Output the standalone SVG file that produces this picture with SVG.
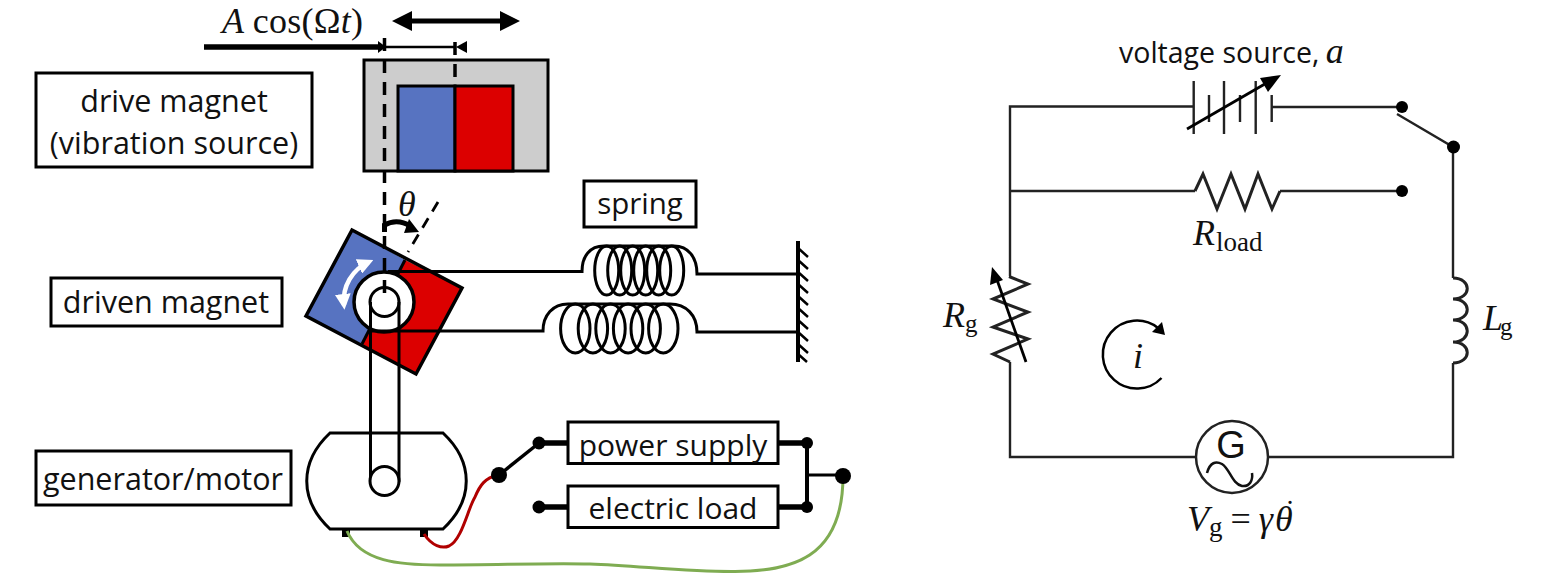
<svg xmlns="http://www.w3.org/2000/svg" width="1542" height="582" viewBox="0 0 1542 582">
<style>
.box{fill:#fff;stroke:#000;stroke-width:3}
.lbl{font-family:"Open Sans","Noto Sans",sans-serif;font-size:30.500px;fill:#111;text-anchor:middle}
.m{font-family:"Liberation Serif",serif;font-style:italic;font-size:36px;fill:#111}
.u{font-family:"Liberation Serif",serif;font-style:normal}
.w{fill:none;stroke:#000;stroke-width:3}
.c{fill:none;stroke:#222;stroke-width:2.400}
.d{fill:none;stroke:#000;stroke-width:3.500;stroke-dasharray:13 9}
.t{fill:none;stroke:#000;stroke-width:5.500}
.coil{fill:none;stroke:#000;stroke-width:3}
</style>
<defs>
<marker id="whead" viewBox="0 0 10 10" refX="7" refY="5" markerWidth="3.500" markerHeight="3.500" orient="auto-start-reverse" markerUnits="strokeWidth"><path d="M0 0L10 5L0 10z" fill="#fff"/></marker>
</defs>

<g id="drive-magnet">
<rect x="364" y="60" width="184" height="111" fill="#cdcdcd" stroke="#000" stroke-width="3"/>
<rect x="398" y="86" width="57" height="85" fill="#5773c1" stroke="#000" stroke-width="3"/>
<rect x="455" y="86" width="58" height="85" fill="#dc0000" stroke="#000" stroke-width="3"/>
</g>
<g id="driven-magnet">
<path d="M352 230L405 260L362 344L306 316z" fill="#5773c1"/>
<path d="M405 260L462 288L416 374L362 344z" fill="#dc0000"/>
<path d="M352 230L462 288L416 374L306 316z" fill="none" stroke="#000" stroke-width="3.500"/>
<path d="M405 260L362 344" stroke="#000" stroke-width="3" fill="none"/>
</g>
<g id="generator">
<path d="M330 433H443C474 462 474 500 443 529H330C299 500 299 462 330 433z" fill="#fff" stroke="#000" stroke-width="3"/>
<rect x="342" y="529" width="8" height="8" fill="#000"/>
<rect x="420" y="529" width="8" height="8" fill="#000"/>
</g>
<g id="rotor">
<circle cx="384" cy="302" r="30" fill="#fff" stroke="#000" stroke-width="3.500"/>
<path d="M370.500 302V481A14.500 14.500 0 0 0 399 481V302" fill="none" stroke="#000" stroke-width="3"/>
<circle cx="384.500" cy="481" r="14.500" fill="#fff" stroke="#000" stroke-width="3"/>
<circle cx="384.500" cy="302" r="14.500" fill="none" stroke="#000" stroke-width="3"/>
<path d="M344 305A42 42 0 0 1 369 262" fill="none" stroke="#fff" stroke-width="4.500" marker-start="url(#whead)" marker-end="url(#whead)"/>
</g>

<g id="connectors">
<path class="d" d="M384.500 38V302"/>
<path class="d" d="M455 42V86"/>
<path d="M438 202L408 252" fill="none" stroke="#000" stroke-width="2.800" stroke-dasharray="11 8"/>
<path d="M204 47H378" fill="none" stroke="#000" stroke-width="5.500"/>
<path d="M378 41L386 47L378 53z" fill="#000"/>
<path d="M384 47H456" fill="none" stroke="#000" stroke-width="2.500"/>
<path d="M467 41V53L456 47z" fill="#000"/>
<path d="M410 21H502" fill="none" stroke="#000" stroke-width="5"/>
<path d="M392 21L412 11V31z M520 21L500 11V31z" fill="#000"/>
<path d="M384.500 232V225C395 219 406 222 412 228" fill="none" stroke="#000" stroke-width="5"/>
<path d="M409 219L419 232L404 233z" fill="#000"/>
<path class="w" d="M388 271.500H582C582 256 590 246 604 246H674C688 246 697 257 697 274H798"/>
<path class="w" d="M369 331H543C543 315 553 304 568 304H670C686 304 697 315 697 332H798"/>
<g class="coil">
<ellipse cx="606.700" cy="270.500" rx="12" ry="24.500"/><ellipse cx="619.700" cy="270.500" rx="12" ry="24.500"/><ellipse cx="632.700" cy="270.500" rx="12" ry="24.500"/><ellipse cx="645.700" cy="270.500" rx="12" ry="24.500"/><ellipse cx="658.700" cy="270.500" rx="12" ry="24.500"/><ellipse cx="671.700" cy="270.500" rx="12" ry="24.500"/>
<ellipse cx="575.300" cy="328.500" rx="14.700" ry="24.500"/><ellipse cx="592.900" cy="328.500" rx="14.700" ry="24.500"/><ellipse cx="610.500" cy="328.500" rx="14.700" ry="24.500"/><ellipse cx="628.100" cy="328.500" rx="14.700" ry="24.500"/><ellipse cx="645.700" cy="328.500" rx="14.700" ry="24.500"/><ellipse cx="663.300" cy="328.500" rx="14.700" ry="24.500"/>
</g>
<path d="M798 241V362" fill="none" stroke="#000" stroke-width="4"/>
<path d="M798 248L808 257M798 260L808 269M798 272L808 281M798 284L808 293M798 296L808 305M798 308L808 317M798 320L808 329M798 332L808 341M798 344L808 353M798 354L807 362" fill="none" stroke="#000" stroke-width="2.500"/>
<path d="M424 534C432 546 442 549 449 546C462 540 468 508 475 497C480 485 485 478 498 475" fill="none" stroke="#b00000" stroke-width="3"/>
<path d="M347 531C360 562 400 565 440 565C500 565 540 563 590 564C640 566 690 572 735 571.500C790 571 843 560 843 476" fill="none" stroke="#7fac52" stroke-width="3"/>
<path d="M499 475L539 443" fill="none" stroke="#000" stroke-width="3.500"/>
<path class="t" d="M539 443H568M539 507H568M778 443H807M778 507H807"/>
<path d="M807 443V507" fill="none" stroke="#000" stroke-width="4"/>
<path d="M807 475H843" fill="none" stroke="#000" stroke-width="3"/>
<circle cx="499" cy="475" r="8" fill="#000"/><circle cx="539" cy="443" r="6.500" fill="#000"/><circle cx="539" cy="507" r="6.500" fill="#000"/><circle cx="807" cy="443" r="6" fill="#000"/><circle cx="807" cy="507" r="6" fill="#000"/><circle cx="843" cy="476" r="8" fill="#000"/>

<path class="c" d="M1193 106.500H1010V276M1010 191H1195M1280 191H1402M1272 107H1402M1397 114L1453 147V278M1453 363V457H1268M1196 457H1010V362"/>
<path class="c" d="M1193.700 81V134M1209 95V122M1224 81V134M1240 95V122M1255.700 81V134M1271.700 95V122"/>
<path d="M1187 129L1270 81" fill="none" stroke="#000" stroke-width="2.800"/>
<path d="M1281 75L1268 92L1260 78z" fill="#000"/>
<circle cx="1402" cy="107" r="6" fill="#000"/><circle cx="1402" cy="191" r="6" fill="#000"/><circle cx="1453.500" cy="147" r="6.500" fill="#000"/>
<path d="M1195 191L1203 174L1217 209L1231 174L1245 209L1258 174L1272 209L1280 191" fill="none" stroke="#222" stroke-width="3"/>
<path d="M1009 276.500L1028 284L993 299L1028 312L993 327L1028 339L993 354L1010 362" fill="none" stroke="#222" stroke-width="3"/>
<path d="M1026 362L996 277" fill="none" stroke="#000" stroke-width="2.800"/>
<path d="M992 267L1003 280L990 285z" fill="#000"/>
<path d="M1453 278C1472 278 1472 299 1453 299C1472 299 1472 320 1453 320C1472 320 1472 342 1453 342C1472 342 1472 363 1453 363" fill="none" stroke="#222" stroke-width="3"/>
<path d="M1161.500 378A34 34 0 1 1 1158 328" fill="none" stroke="#000" stroke-width="2.500"/>
<path d="M1165 335L1152 332L1162 322z" fill="#000"/>
</g>

<g id="drive-magnet-label"><rect class="box" x="36" y="73" width="276" height="94"/><text class="lbl" x="174" y="112">drive magnet</text><text class="lbl" x="174" y="154">(vibration source)</text></g>
<g id="spring-label"><rect class="box" x="584" y="181" width="112" height="46"/><text class="lbl" x="640" y="214" style="font-size:29.500px">spring</text></g>
<g id="driven-magnet-label"><rect class="box" x="51" y="278" width="231" height="48"/><text class="lbl" x="166" y="313">driven magnet</text></g>
<g id="generator-label"><rect class="box" x="36" y="451" width="255" height="54"/><text class="lbl" x="163" y="490">generator/motor</text></g>
<g id="power-supply"><rect class="box" x="568" y="422" width="210" height="41.500"/><text class="lbl" x="673" y="456" style="font-size:30px">power supply</text></g>
<g id="electric-load"><rect class="box" x="568" y="486" width="210" height="41.500"/><text class="lbl" x="673" y="519" style="font-size:30px">electric load</text></g>
<g id="voltage-source-label"><text x="1119" y="63" style="font-family:'Open Sans',sans-serif;font-size:28.500px;fill:#111">voltage source, <tspan class="m" font-size="34" dx="-1">a</tspan></text></g>
<g id="generator-source"><circle cx="1232" cy="457" r="36" fill="#fff" stroke="#222" stroke-width="2.500"/>
<text x="1231" y="458" text-anchor="middle" style="font-family:'Liberation Sans',sans-serif;font-size:38px;fill:#111">G</text>
<path d="M1207 473C1210 462 1216 461 1222 464C1230 469 1232 484 1242 486C1250 487 1253 480 1252 473" fill="none" stroke="#111" stroke-width="2.500"/></g>

<g id="math-labels">
<text class="m" x="222" y="33" textLength="141" lengthAdjust="spacing">A <tspan class="u">cos(Ω</tspan>t<tspan class="u">)</tspan></text>
<text class="m" x="398" y="216">θ</text>
<text class="m" x="1193" y="245">R<tspan class="u" font-size="27" dy="6" dx="1">load</tspan></text>
<text class="m" x="943" y="327">R<tspan class="u" font-size="25" dy="5">g</tspan></text>
<text class="m" x="1483" y="330">L<tspan class="u" font-size="25" dy="5" dx="-3">g</tspan></text>
<text class="m" x="1133" y="368">i</text>
<text class="m" x="1187" y="531">V<tspan class="u" font-size="27" dy="5">g</tspan><tspan class="u" dy="-5" dx="8">=</tspan><tspan dx="8">γ</tspan><tspan dx="2">θ</tspan><tspan class="u" x="1285" y="521" style="font-size:30px">˙</tspan></text>
</g>
</svg>
